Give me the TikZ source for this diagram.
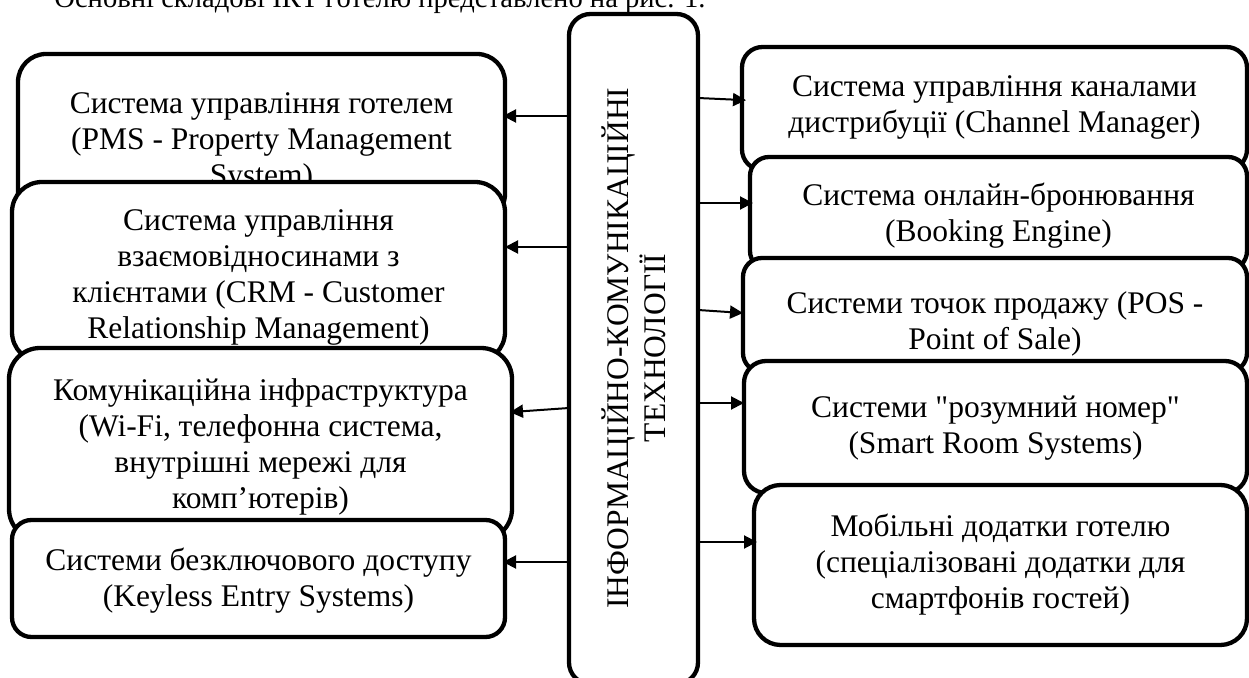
\documentclass[tikz,border=0pt]{standalone}
\usepackage{fontspec}
\setmainfont{Liberation Serif}[Ligatures=TeXOff]
\usetikzlibrary{arrows.meta}
\tikzset{
  box/.style={draw, line width=2.15pt, fill=white, rounded corners=#1,
    inner sep=0pt, outer sep=0pt, anchor=north west},
  txt/.style={font=\fontsize{15.75pt}{18pt}\selectfont, align=center,
    anchor=north, inner sep=0pt},
  arr/.style={line width=1pt, -{Triangle[length=6.5pt,width=6.5pt]}},
}
\begin{document}
\begin{tikzpicture}[x=0.5pt,y=-0.5pt]
\useasboundingbox (0,0) rectangle (1249,678);
\node[font=\fontsize{14.3pt}{17pt}\selectfont, anchor=base west, inner sep=0pt] (cap) at (54,8)
  {Основні складові ІКТ готелю представлено на рис. 1.};
% left column
\node[box=14pt, minimum width=243.5pt, minimum height=84pt] (L1) at (18,54) {};
\node[txt] (T1) at (261.5,88) {\strut Система управління готелем\\(PMS - Property Management\\System)};
\node[box=15pt, minimum width=246.5pt, minimum height=90pt] (L2) at (12,182) {};
\node[txt] (T2) at (258.5,205) {\strut Система управління\\взаємовідносинами з\\клієнтами (CRM - Customer\\Relationship Management)};
\node[box=15.5pt, minimum width=251.5pt, minimum height=96pt] (L3) at (9,348) {};
\node[txt] (T3) at (260.5,375) {\strut Комунікаційна інфраструктура\\(Wi-Fi, телефонна система,\\внутрішні мережі для\\комп’ютерів)};
\node[box=9.75pt, minimum width=246.5pt, minimum height=58.5pt] (L4) at (12,520) {};
\node[txt] (T4) at (258.5,545) {\strut Системи безключового доступу\\(Keyless Entry Systems)};
% right column
\node[box=10.25pt, minimum width=252.5pt, minimum height=61.5pt] (R1) at (742,47) {};
\node[txt] (U1) at (994.5,71) {\strut Система управління каналами\\дистрибуції (Channel Manager)};
\node[box=9.5pt, minimum width=248.5pt, minimum height=56.5pt] (R2) at (750,157) {};
\node[txt] (U2) at (998.5,180) {\strut Система онлайн-бронювання\\(Booking Engine)};
\node[box=9.5pt, minimum width=252pt, minimum height=57pt] (R3) at (743,258) {};
\node[txt] (U3) at (995,288) {\strut Системи точок продажу (POS -\\Point of Sale)};
\node[box=11pt, minimum width=251.5pt, minimum height=66pt] (R4) at (744,361) {};
\node[txt] (U4) at (995.5,392) {\strut Системи "розумний номер"\\(Smart Room Systems)};
\node[box=13.3pt, minimum width=246.5pt, minimum height=80pt] (R5) at (754,485) {};
\node[txt] (U5) at (1000.5,511) {\strut Мобільні додатки готелю\\(спеціалізовані додатки для\\смартфонів гостей)};
% centre
\node[box=10.75pt, minimum width=64.5pt, minimum height=335pt] (C) at (569,14) {};
\node[font=\fontsize{15.75pt}{18.5pt}\selectfont, align=center, rotate=90, inner sep=0pt] (CT) at (633.5,348)
  {ІНФОРМАЦІЙНО-КОМУНІКАЦІЙНІ\\ТЕХНОЛОГІЇ};
% arrows
\draw[arr, shorten >=-1pt] (C.west |- 0,116) -- (L1.east |- 0,116);
\draw[arr] (C.west |- 0,247) -- (L2.east |- 0,247);
\draw[arr, shorten >=-1pt] (C.west |- 0,408) -- (L3.east |- 0,412);
\draw[arr, shorten >=-1pt] (C.west |- 0,562) -- (L4.east |- 0,562);
\draw[arr, shorten >=-2pt] (C.east |- 0,98) -- (R1.west |- 0,100);
\draw[arr, shorten >=-1.5pt] (C.east |- 0,203) -- (R2.west |- 0,203);
\draw[arr] (C.east |- 0,310) -- (R3.west |- 0,313);
\draw[arr] (C.east |- 0,403) -- (R4.west |- 0,403);
\draw[arr, shorten >=-1.5pt] (C.east |- 0,542) -- (R5.west |- 0,542);
\end{tikzpicture}
\end{document}
